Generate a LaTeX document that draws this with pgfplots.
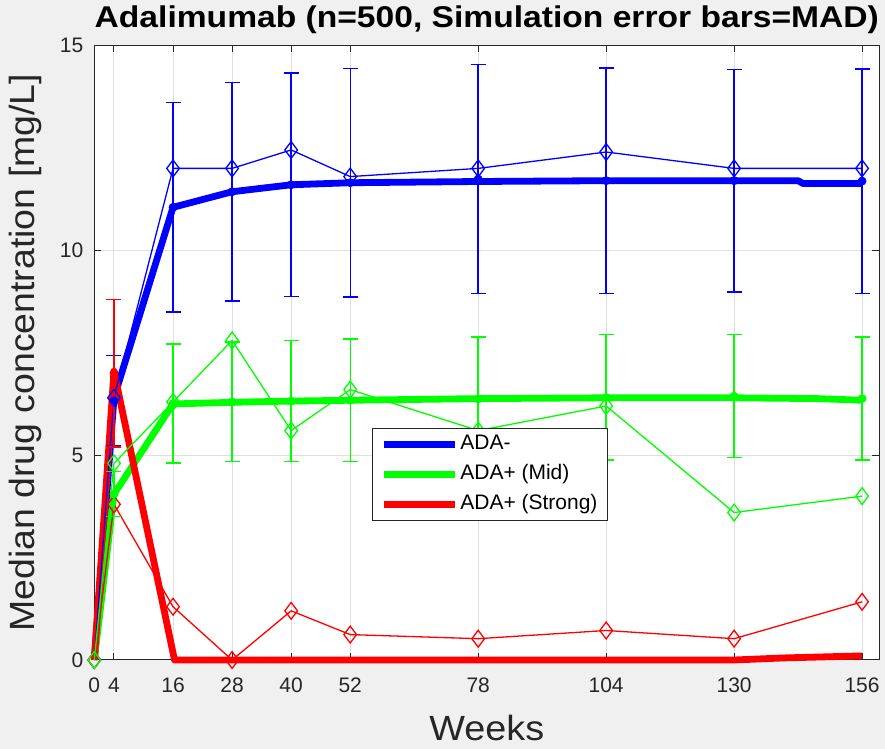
\documentclass[border=0pt]{standalone}
\usepackage{fontspec}
\setmainfont{Liberation Sans}
\usepackage{graphicx}
\usepackage{pgfplots}
\pgfplotsset{compat=1.18}
\usepackage{pgfplotstable}
\definecolor{figbg}{RGB}{240,240,240}
\definecolor{axgray}{RGB}{38,38,38}
\definecolor{gridgray}{RGB}{223,223,223}
\definecolor{mblue}{RGB}{0,0,255}
\definecolor{mgreen}{RGB}{0,255,0}
\definecolor{mred}{RGB}{255,0,0}

% simulated medians (thick lines)
\pgfplotstableread{
x y
0 0
4 6.4
16 11.05
28 11.43
40 11.6
52 11.65
78 11.68
104 11.7
130 11.7
143 11.7
144 11.63
156 11.63
}\simblue
\pgfplotstableread{
x y
0 0
4 4.05
16 6.25
28 6.29
40 6.32
52 6.34
78 6.38
104 6.4
130 6.4
147 6.38
156 6.34
}\simgreen
\pgfplotstableread{
x y
0 0
4 7.05
16.3 0
130 0
140 0.05
156 0.1
}\simred

% observed medians (thin lines with markers)
\pgfplotstableread{
x y
0 0
4 6.4
16 12.0
28 12.0
40 12.45
52 11.8
78 12.0
104 12.4
130 12.0
156 12.0
}\obsblue
\pgfplotstableread{
x y
0 0
4 4.8
16 6.3
28 7.8
40 5.6
52 6.6
78 5.6
104 6.2
130 3.6
156 4.0
}\obsgreen
\pgfplotstableread{
x y
0 0
4 3.8
16 1.3
28 0
40 1.2
52 0.62
78 0.52
104 0.72
130 0.52
156 1.42
}\obsred

% simulation error bars (median +- MAD)
\pgfplotstableread{
x y e
4 6.33 1.11
16 11.05 2.56
28 11.43 2.67
40 11.6 2.73
52 11.65 2.79
78 11.74 2.79
104 11.7 2.75
130 11.7 2.72
156 11.69 2.74
}\errblue
\pgfplotstableread{
x y e
4 4.05 0.55
16 6.26 1.45
28 6.3 1.46
40 6.32 1.48
52 6.34 1.5
78 6.37 1.51
104 6.41 1.53
130 6.44 1.5
156 6.38 1.5
}\errgreen
\pgfplotstableread{
x y e
4 7.0 1.8
}\errred

\begin{document}
\begin{tikzpicture}
\path[use as bounding box, fill=figbg] (0,0) rectangle (442.5pt,374.5pt);
\begin{axis}[
  at={(47.15pt,44.5pt)}, anchor=south west,
  scale only axis, width=392.5pt, height=307.25pt,
  xmin=0, xmax=159.5, ymin=0, ymax=15,
  xtick={0,4,16,28,40,52,78,104,130,156},
  ytick={0,5,10,15},
  clip=false,
  axis background/.style={fill=white},
  grid=major, grid style={gridgray, line width=0.5pt},
  axis line style={axgray, line width=0.5pt},
  tick style={axgray, line width=0.5pt},
  major tick length=3.5pt,
  tick align=inside,
  tick label style={font=\fontsize{10.5}{12}\selectfont, text=axgray},
  /pgf/number format/assume math mode=true,
  xticklabel style={yshift=-5.5pt},
  yticklabel style={xshift=-2pt},
  title={\scalebox{1.12}[1]{Adalimumab (n=500, Simulation error bars=MAD)}},
  title style={font=\fontsize{15}{18}\selectfont\bfseries, at={(axis description cs:0.5,1.00895)}, anchor=base, inner sep=0pt, text=black},
  xlabel={\scalebox{1.08}[1]{Weeks}},
  xlabel style={font=\fontsize{17.5}{21}\selectfont, at={(axis description cs:0.5,-0.1302)}, anchor=base, inner sep=0pt, text=axgray},
  ylabel={\scalebox{1.07}[1]{Median drug concentration [mg/L]}},
  ylabel style={font=\fontsize{17.5}{21}\selectfont, at={(axis description cs:-0.07554,0.5)}, anchor=base, inner sep=0pt, text=axgray},
  legend cell align=left,
  legend style={at={(0.3538,0.3775)}, anchor=north west, draw=axgray, line width=0.5pt, fill=white,
    font=\fontsize{10.5}{12}\selectfont, inner xsep=4pt, inner ysep=2pt, row sep=3pt,
    nodes={inner sep=1pt, text height=7.6pt, text depth=2.4pt}},
  legend image code/.code={\draw[#1] (0pt,0pt) -- (35.5pt,0pt);},
]
\addplot[mblue, line width=3.4pt, line join=round] table {\simblue};
\addlegendentry{ADA-}
\addplot[mgreen, line width=3.4pt, line join=round] table {\simgreen};
\addlegendentry{ADA+ (Mid)}
\addplot[mred, line width=3.4pt, line join=round] table {\simred};
\addlegendentry{ADA+ (Strong)}

\addplot[mblue, line width=0.65pt, mark=diamond, mark size=4.2pt, mark options={solid}, forget plot] table {\obsblue};
\addplot[mred, line width=0.65pt, mark=diamond, mark size=4.2pt, mark options={solid}, forget plot] table {\obsred};
\addplot[mgreen, line width=0.65pt, mark=diamond, mark size=4.2pt, mark options={solid}, forget plot] table {\obsgreen};

\addplot[mblue, only marks, mark=none, forget plot,
  error bars/.cd, y dir=both, y explicit,
  error bar style={line width=0.7pt, mblue},
  error mark options={rotate=90, mblue, mark size=3.75pt, line width=0.7pt}]
  table[x=x, y=y, y error=e] {\errblue};
\addplot[mgreen, only marks, mark=none, forget plot,
  error bars/.cd, y dir=both, y explicit,
  error bar style={line width=0.7pt, mgreen},
  error mark options={rotate=90, mgreen, mark size=3.75pt, line width=0.7pt}]
  table[x=x, y=y, y error=e] {\errgreen};
\addplot[mred, only marks, mark=none, forget plot,
  error bars/.cd, y dir=both, y explicit,
  error bar style={line width=0.7pt, mred},
  error mark options={rotate=90, mred, mark size=3.75pt, line width=0.7pt}]
  table[x=x, y=y, y error=e] {\errred};
\end{axis}
\end{tikzpicture}
\end{document}
